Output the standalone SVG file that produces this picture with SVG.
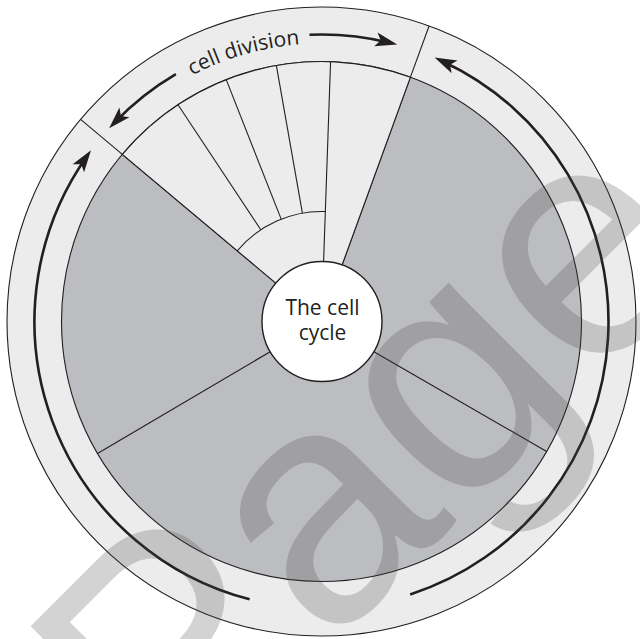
<svg xmlns="http://www.w3.org/2000/svg" width="640" height="639" viewBox="0 0 640 639">
  <style>
    .ln { stroke: #231f20; stroke-width: 1.1; }
    .open { fill: none; }
    .arr { stroke: #231f20; stroke-width: 2.6; fill: none; }
    .light { fill: #ececec; }
    .grey { fill: #bcbdc0; }
    .lbl { font-family: "Open Sans", "Liberation Sans", sans-serif; font-size: 21px; fill: #231f20; }
    .wm { font-family: "Liberation Sans", Arial, sans-serif; font-size: 330px; fill: #474747; fill-opacity: 0.24; }
  </style>
  <defs>
    <marker id="ah" viewBox="-2 -9 26 18" markerWidth="26" markerHeight="18" refX="14" refY="0" orient="auto" markerUnits="userSpaceOnUse">
      <path d="M0,-7 L22,0 L0,7 L5,0 Z" fill="#231f20"/>
    </marker>
    <path id="labelArc" d="M80.74,182.5 A278,278 0 0 1 451.15,75.59"/>
  </defs>

  <rect width="640" height="639" fill="#ffffff"/>

  <g id="outer-ring">
    <circle cx="321.5" cy="321.5" r="314.5" class="ln light"/>
    <line class="ln" x1="80.58" y1="119.34" x2="122.33" y2="154.37"/>
    <line class="ln" x1="429.07" y1="25.97" x2="410.43" y2="77.18"/>
  </g>

  <g id="interphase">
    <circle cx="321.5" cy="321.5" r="260" class="ln grey"/>
    <line class="ln" x1="342.02" y1="265.12" x2="410.43" y2="77.18"/>
    <line class="ln" x1="373.46" y1="351.5" x2="546.67" y2="451.5"/>
    <line class="ln" x1="269.8" y1="351.95" x2="97.48" y2="453.46"/>
    <line class="ln" x1="275.54" y1="282.93" x2="122.33" y2="154.37"/>
  </g>

  <g id="cell-division">
    <path d="M321.5,321.5 L122.33,154.37 A260,260 0 0 1 410.43,77.18 Z" class="ln light"/>
    <path class="ln open" d="M237.24,250.79 A110,110 0 0 1 325.34,211.57"/>
    <line class="ln" x1="260.79" y1="229.77" x2="178.0" y2="104.7"/>
    <line class="ln" x1="281.19" y1="219.15" x2="226.21" y2="79.59"/>
    <line class="ln" x1="302.4" y1="213.17" x2="276.35" y2="65.45"/>
    <line class="ln" x1="323.59" y1="261.54" x2="330.57" y2="61.66"/>
  </g>

  <g id="center">
    <circle cx="322" cy="321.5" r="60" fill="#ffffff" stroke="#231f20" stroke-width="1.4"/>
    <text class="lbl" x="322.5" y="315" text-anchor="middle">The cell</text>
    <text class="lbl" x="322.5" y="340" text-anchor="middle">cycle</text>
  </g>

  <g id="connectors">
    <path class="arr" marker-end="url(#ah)" d="M249.64,599.36 A287,287 0 0 1 86.40,156.88"/>
    <path class="arr" marker-end="url(#ah)" d="M410.19,594.45 A287,287 0 0 0 441.88,60.97"/>
    <path class="arr" marker-end="url(#ah)" d="M309.48,34.75 A287,287 0 0 1 389.47,42.67"/>
    <path class="arr" marker-end="url(#ah)" d="M175.84,74.21 A287,287 0 0 0 114.70,122.49"/>
  </g>

  <g id="label-cell-division">
    <text class="lbl"><textPath href="#labelArc" startOffset="50%" text-anchor="middle">cell division</textPath></text>
  </g>

  <g id="watermark">
    <text class="wm" transform="translate(172,806) rotate(-45)">Page</text>
  </g>
</svg>
